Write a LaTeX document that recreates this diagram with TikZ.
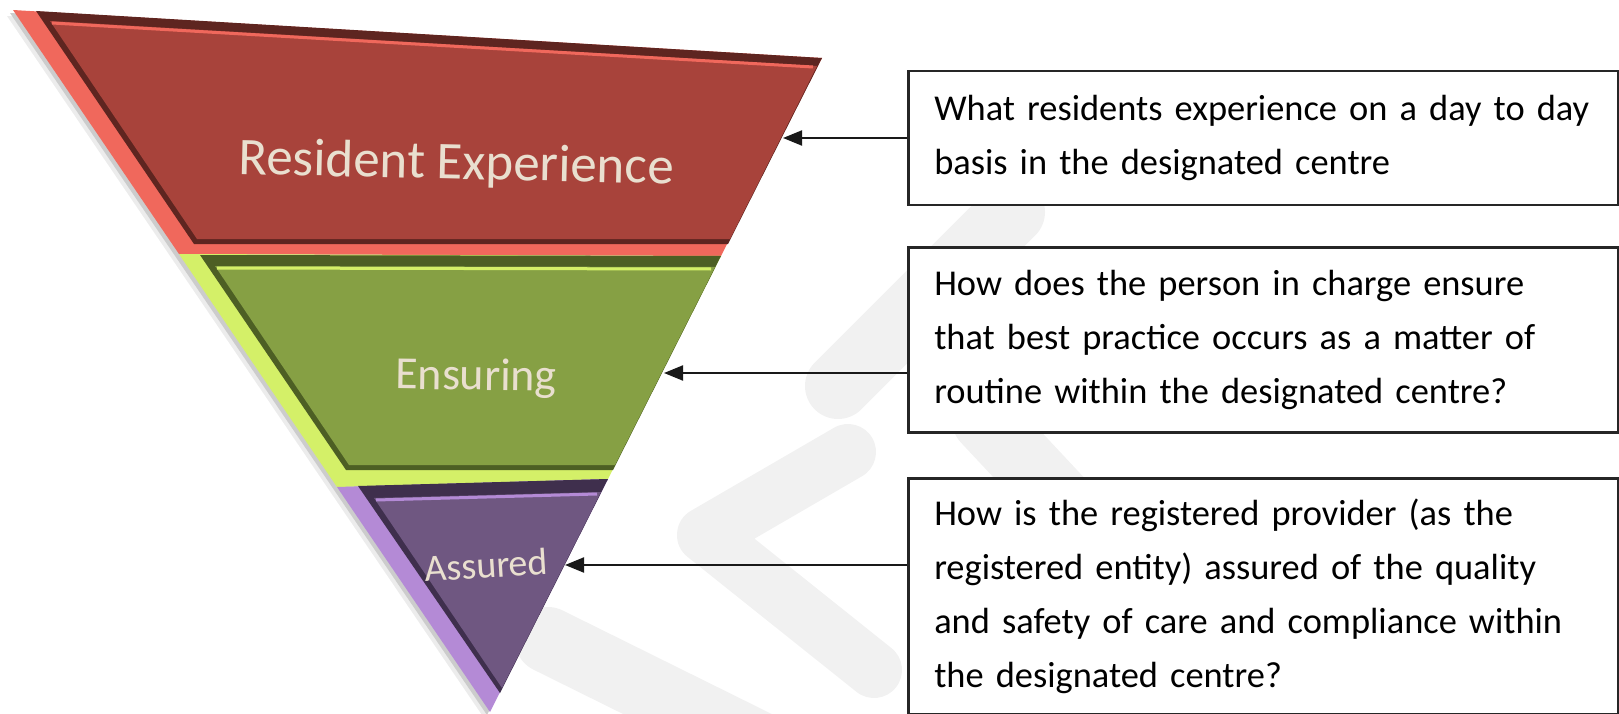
\documentclass[tikz,border=0pt]{standalone}
\usepackage{fontspec}
\setmainfont{Carlito}
\usetikzlibrary{arrows.meta,positioning}

\definecolor{redface}{RGB}{168,67,59}
\definecolor{redlight}{RGB}{240,104,92}
\definecolor{reddark}{RGB}{94,37,32}
\definecolor{greenface}{RGB}{134,160,68}
\definecolor{greenlight}{RGB}{212,240,104}
\definecolor{greendark}{RGB}{77,95,36}
\definecolor{purpleface}{RGB}{111,87,129}
\definecolor{purplelight}{RGB}{180,138,214}
\definecolor{purpledark}{RGB}{63,47,77}
\definecolor{labeltext}{RGB}{233,223,207}
\definecolor{watermark}{RGB}{241,241,241}

\tikzset{
  qbox/.style={draw=black!85,line width=2.5pt,fill=white,anchor=north west,align=left,
    text width=658pt,inner xsep=26pt,inner ysep=0pt,font=\fontsize{36.4}{54}\selectfont},
  bandlabel/.style={anchor=base,text=labeltext},
  qarrow/.style={line width=2pt,draw=black!90,-{Triangle[length=19pt,width=15pt]}},
  wmark/.style={line width=66pt,draw=watermark,line cap=round,line join=round}
}

\begin{document}
\begin{tikzpicture}[x=1pt,y=-1pt]
  \useasboundingbox (0,0) rectangle (1619,714);
  \draw[wmark] (1012,212) -- (838,386);
  \draw[wmark,line width=56pt] (848,452) -- (705,535) -- (874,670);
  \draw[wmark] (985,420) -- (1260,714);
  \draw[wmark] (548,640) -- (760,745);

  \fill[gray!15,xshift=-6pt,yshift=-6pt] (13,10) -- (822,58) -- (490,712) -- cycle;
  \fill[gray!40,xshift=-3pt,yshift=-3pt] (13,10) -- (822,58) -- (490,712) -- cycle;

  \fill[redlight] (13,10) -- (822,58) -- (721,256) -- (179,254) -- cycle;
  \fill[reddark] (36,11) -- (822,58) -- (728,244) -- (194,244) -- cycle;
  \fill[redface] (50,21) -- (817,66) -- (730,239) -- (197,239) -- cycle;
  \draw[redlight,line width=3pt] (52,23) -- (813,67);

  \fill[greenlight] (179,254) -- (721,256) -- (608,479) -- (337,487) -- cycle;
  \fill[greendark] (200,255) -- (721,256) -- (613,470) -- (346,470) -- cycle;
  \fill[greenface] (215,266) -- (715,267) -- (615,465) -- (349,465) -- cycle;
  \draw[greenlight,line width=3pt] (217,268) -- (711,269);

  \fill[purplelight] (337,487) -- (608,479) -- (490,712) -- cycle;
  \fill[purpledark] (358,486) -- (608,479) -- (500,693) -- cycle;
  \fill[purpleface] (374,498) -- (601,492) -- (502,688) -- cycle;
  \draw[purplelight,line width=3pt] (376,500) -- (597,494);

  \node[bandlabel,font=\fontsize{53}{60}\selectfont,rotate=-1.3] (lblR) at (456,179) {Resident Experience};
  \node[bandlabel,font=\fontsize{46}{52}\selectfont,rotate=-0.8] (lblE) at (476,390) {Ensuring};
  \node[bandlabel,font=\fontsize{38}{44}\selectfont,rotate=3.5] (lblA) at (487,578) {Assured};

  \node[qbox,minimum height=134pt] (qR) at (907,70) {What residents experience on a day to day\\basis in the designated centre};
  \node[qbox,minimum height=185pt] (qE) at (907,246) {How does the person in charge ensure\\that best practice occurs as a matter of\\routine within the designated centre?};
  \node[qbox,minimum height=236pt] (qA) at (907,477) {How is the registered provider (as the\\registered entity) assured of the quality\\and safety of care and compliance within\\the designated centre?};

  \coordinate (tipR) at (783,138);
  \coordinate (tipE) at (664,373);
  \coordinate (tipA) at (565,565);
  \draw[qarrow] (qR.west |- tipR) -- (tipR);
  \draw[qarrow] (qE.west |- tipE) -- (tipE);
  \draw[qarrow] (qA.west |- tipA) -- (tipA);
\end{tikzpicture}
\end{document}
